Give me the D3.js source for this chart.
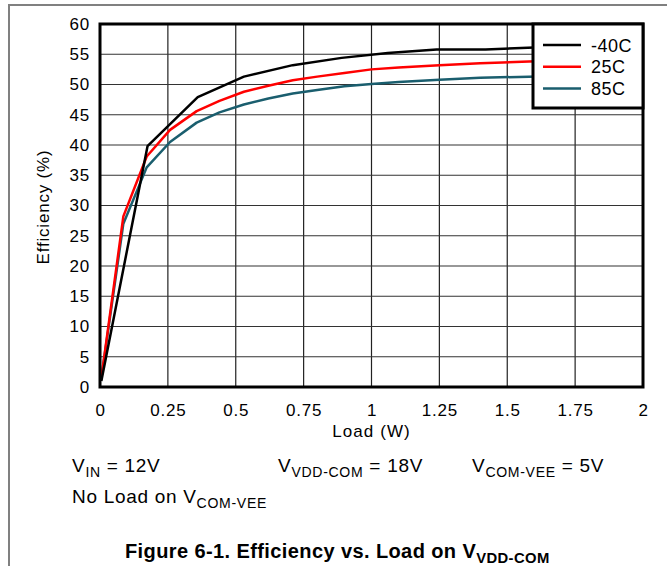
<!DOCTYPE html>
<html>
<head>
<meta charset="utf-8">
<script src="https://cdn.jsdelivr.net/npm/d3@7"></script>
<style>
  body { margin: 0; background: #fff; }
  svg text { font-family: Arial, "Liberation Sans", sans-serif; fill: #000; }
</style>
</head>
<body>
<div id="chart"></div>
<script>
// valores
var xTicks = [0, 0.25, 0.5, 0.75, 1, 1.25, 1.5, 1.75, 2];
var xTickLabels = ["0", "0.25", "0.5", "0.75", "1", "1.25", "1.5", "1.75", "2"];
var yTicks = [0, 5, 10, 15, 20, 25, 30, 35, 40, 45, 50, 55, 60];

var loadM40 = [0.005, 0.175, 0.36, 0.53, 0.71, 0.89, 1.06, 1.24, 1.42, 1.6, 1.78, 1.95];
var effM40  = [1, 39.8, 47.9, 51.3, 53.2, 54.4, 55.2, 55.8, 55.8, 56.1, 56.4, 56.6];

var load25 = [0.005, 0.086, 0.172, 0.258, 0.356, 0.44, 0.53, 0.62, 0.71, 0.8, 0.9, 1.0, 1.1, 1.25, 1.4, 1.58, 1.75, 1.95];
var eff25  = [1.5, 28.2, 38.1, 42.5, 45.6, 47.3, 48.8, 49.8, 50.7, 51.3, 51.9, 52.5, 52.8, 53.2, 53.5, 53.8, 54.0, 54.2];

var load85 = [0.005, 0.086, 0.172, 0.258, 0.356, 0.44, 0.53, 0.62, 0.71, 0.8, 0.9, 1.0, 1.1, 1.25, 1.4, 1.58, 1.75, 1.95];
var eff85  = [1.5, 27.0, 36.3, 40.5, 43.7, 45.4, 46.7, 47.7, 48.5, 49.1, 49.7, 50.1, 50.4, 50.8, 51.1, 51.3, 51.5, 51.6];

var seriesNames = ["-40C", "25C", "85C"];
var seriesColors = ["#000000", "#ff0000", "#1a5e6e"];

var w = 667;
var h = 566;
// margenes del area de la grafica
var pLeft = 100, pRight = 643, pTop = 24, pBottom = 387;

var svg = d3.select("#chart")
    .append("svg")
    .attr("width", w)
    .attr("height", h);

// marco gris
svg.append("path")
    .attr("d", "M9,566 L9,5 L667,5")
    .attr("fill", "none")
    .attr("stroke", "#808080")
    .attr("stroke-width", 2);

var x = d3.scaleLinear().domain([0, 2]).range([pLeft, pRight]);
var y = d3.scaleLinear().domain([0, 60]).range([pBottom, pTop]);

// rejilla
svg.append("g")
    .selectAll("line")
    .data(xTicks)
    .enter()
    .append("line")
    .attr("x1", function(d) { return x(d); })
    .attr("x2", function(d) { return x(d); })
    .attr("y1", pTop)
    .attr("y2", pBottom)
    .attr("stroke", "#222")
    .attr("stroke-width", 1.2);

svg.append("g")
    .selectAll("line")
    .data(yTicks)
    .enter()
    .append("line")
    .attr("x1", pLeft)
    .attr("x2", pRight)
    .attr("y1", function(d) { return y(d); })
    .attr("y2", function(d) { return y(d); })
    .attr("stroke", "#333")
    .attr("stroke-width", 1.2);

// ejes con etiquetas
var xAxis = d3.axisBottom(x)
    .tickValues(xTicks)
    .tickSize(0)
    .tickPadding(17)
    .tickFormat(function(d, i) { return xTickLabels[i]; });

svg.append("g")
    .attr("transform", "translate(0," + pBottom + ")")
    .call(xAxis)
    .call(function(g) { g.select(".domain").remove(); })
    .selectAll("text")
    .attr("font-size", 17)
    .attr("letter-spacing", 0.8)
    .attr("font-family", "Arial, 'Liberation Sans', sans-serif");

var yAxis = d3.axisLeft(y)
    .tickValues(yTicks)
    .tickSize(0)
    .tickPadding(10)
    .tickFormat(d3.format("d"));

svg.append("g")
    .attr("transform", "translate(" + pLeft + ",0)")
    .call(yAxis)
    .call(function(g) { g.select(".domain").remove(); })
    .selectAll("text")
    .attr("font-size", 17)
    .attr("letter-spacing", 0.8)
    .attr("font-family", "Arial, 'Liberation Sans', sans-serif");

// curvas
var datos = [
    { name: seriesNames[0], xs: loadM40, ys: effM40, color: seriesColors[0] },
    { name: seriesNames[1], xs: load25, ys: eff25, color: seriesColors[1] },
    { name: seriesNames[2], xs: load85, ys: eff85, color: seriesColors[2] }
];

var linea = d3.line()
    .x(function(d) { return x(d[0]); })
    .y(function(d) { return y(d[1]); });

svg.append("g")
    .selectAll("path")
    .data(datos.slice().reverse())
    .enter()
    .append("path")
    .attr("d", function(s) {
        return linea(s.xs.map(function(v, i) { return [v, s.ys[i]]; }));
    })
    .attr("fill", "none")
    .attr("stroke", function(s) { return s.color; })
    .attr("stroke-width", 2.5)
    .attr("stroke-linejoin", "round");

// borde del area
svg.append("rect")
    .attr("x", pLeft)
    .attr("y", pTop)
    .attr("width", pRight - pLeft)
    .attr("height", pBottom - pTop)
    .attr("fill", "none")
    .attr("stroke", "#000")
    .attr("stroke-width", 3);

// leyenda
var leg = svg.append("g");
leg.append("rect")
    .attr("x", 533)
    .attr("y", pTop)
    .attr("width", pRight - 533)
    .attr("height", 84)
    .attr("fill", "#fff")
    .attr("stroke", "#000")
    .attr("stroke-width", 3);

leg.selectAll("line")
    .data(datos)
    .enter()
    .append("line")
    .attr("x1", 543)
    .attr("x2", 581)
    .attr("y1", function(d, i) { return 45 + i * 21.7; })
    .attr("y2", function(d, i) { return 45 + i * 21.7; })
    .attr("stroke", function(d) { return d.color; })
    .attr("stroke-width", 2.5);

leg.selectAll("text")
    .data(datos)
    .enter()
    .append("text")
    .attr("x", 591)
    .attr("y", function(d, i) { return 51.5 + i * 21.7; })
    .attr("font-size", 18)
    .attr("letter-spacing", 0.5)
    .text(function(d) { return d.name; });

// titulos
svg.append("text")
    .attr("transform", "translate(49,207) rotate(-90)")
    .attr("text-anchor", "middle")
    .attr("font-size", 17)
    .attr("letter-spacing", 0.8)
    .text("Efficiency (%)");

svg.append("text")
    .attr("x", (pLeft + pRight) / 2)
    .attr("y", 437)
    .attr("text-anchor", "middle")
    .attr("font-size", 17)
    .attr("letter-spacing", 1.1)
    .text("Load (W)");

function conSub(xp, yp, size, parts) {
    var t = svg.append("text")
        .attr("x", xp)
        .attr("y", yp)
        .attr("font-size", size)
        .attr("letter-spacing", 0.7);
    parts.forEach(function(p) {
        var s = t.append("tspan").text(p[0]);
        if (p[1] === "sub") {
            s.attr("font-size", size * 0.74).attr("dy", 5);
        } else if (p[1] === "up") {
            s.attr("dy", -5);
        }
    });
    return t;
}

conSub(72, 472, 19, [["V"], ["IN", "sub"], [" = 12V", "up"]]);
conSub(278, 472, 19, [["V"], ["VDD-COM", "sub"], [" = 18V", "up"]]);
conSub(472, 472, 19, [["V"], ["COM-VEE", "sub"], [" = 5V", "up"]]);
conSub(72, 503, 19, [["No Load on V"], ["COM-VEE", "sub"]]);

conSub(125, 558, 20, [["Figure 6-1. Efficiency vs. Load on V"], ["VDD-COM", "sub"]])
    .attr("font-weight", "bold")
    .attr("letter-spacing", 0.4);
</script>
</body>
</html>
